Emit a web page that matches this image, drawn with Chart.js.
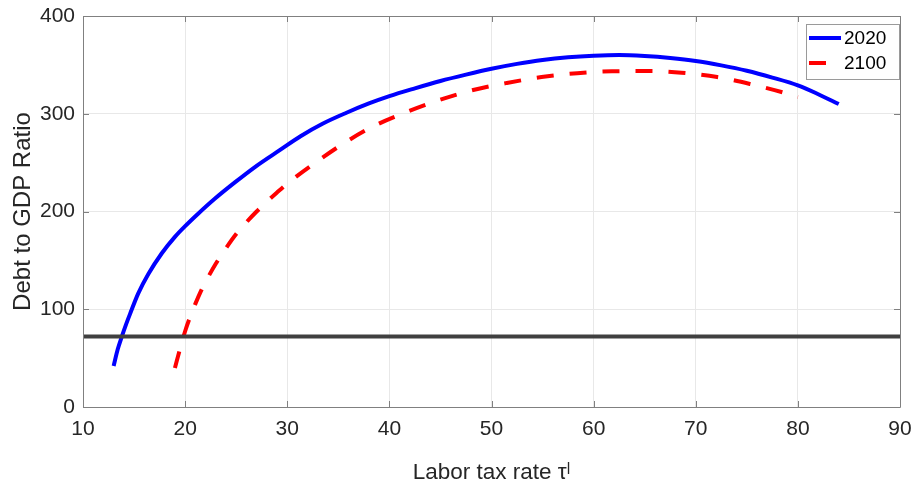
<!DOCTYPE html>
<html>
<head>
<meta charset="utf-8">
<script src="https://cdn.jsdelivr.net/npm/chart.js@4.4.1/dist/chart.umd.min.js"></script>
<style>
  html, body { margin: 0; padding: 0; background: #ffffff; }
  #wrap { width: 919px; height: 486px; }
</style>
</head>
<body>
<div id="wrap"><canvas id="c" width="919" height="486"></canvas></div>
<script>
// ---- data ----
const taxRate2020 = [13, 13.4, 13.8, 14.2, 14.6, 15.4, 16.4, 17.7, 19, 20, 21.3, 22.9, 24.9, 26.9, 29.3, 31.3, 33.5, 35.8, 38, 40, 42.5, 45, 47.5, 50, 52.5, 55, 57.5, 60, 62.5, 65, 67.5, 70, 72.5, 75, 77.5, 80, 82, 84];
const debt2020    = [42, 59, 72, 84, 95, 116, 136, 157, 174, 185, 198, 213, 230, 246, 263, 277, 290, 301, 310.5, 318, 326, 333.5, 340, 346, 351, 355, 357.7, 359.3, 360, 359, 357, 354, 349.5, 344, 337, 329, 320, 310];

const taxRate2100 = [19, 19.5, 20, 20.5, 21, 21.5, 22, 23, 24, 25, 26, 27, 28, 29, 30, 32.5, 35.5, 38.4, 41.5, 44.6, 47.9, 51.5, 54.9, 58.4, 61.8, 65.2, 68.6, 72.1, 75.3, 78.8, 80];
const debt2100    = [40, 59.5, 77.5, 92.5, 105.5, 117.5, 128, 146.5, 162.5, 177, 189, 200, 210, 219.5, 228.5, 248, 269.5, 287, 301, 313, 323.5, 331.5, 337.5, 341.5, 343.5, 343.7, 342, 337.5, 330.5, 321, 317];

const refTaxRate = [10, 90];
const refDebt    = [72, 72];

const seriesLabels = ['2020', '2100'];
const xTicks = [10, 20, 30, 40, 50, 60, 70, 80, 90];
const yTicks = [0, 100, 200, 300, 400];

const xTitle = 'Labor tax rate τˡ';
const yTitle = 'Debt to GDP Ratio';

function pts(xs, ys) { return xs.map((x, i) => ({ x: x, y: ys[i] })); }

const FONT = '"Liberation Sans", Arial, Helvetica, sans-serif';
const TEXT = '#262626';
const AXIS = '#808080';

const framePlugin = {
  id: 'frame',
  afterDatasetsDraw(chart) {
    const { ctx, chartArea: a, scales } = chart;
    ctx.save();
    ctx.strokeStyle = AXIS;
    ctx.lineWidth = 1;
    ctx.beginPath();
    ctx.rect(Math.round(a.left) + 0.5, Math.round(a.top) + 0.5,
             Math.round(a.right - a.left), Math.round(a.bottom - a.top));
    ctx.stroke();
    const tl = 6;
    ctx.beginPath();
    xTicks.forEach(v => {
      const px = Math.round(scales.x.getPixelForValue(v)) + 0.5;
      ctx.moveTo(px, a.bottom); ctx.lineTo(px, a.bottom - tl);
      ctx.moveTo(px, a.top); ctx.lineTo(px, a.top + tl);
    });
    yTicks.forEach(v => {
      const py = Math.round(scales.y.getPixelForValue(v)) + 0.5;
      ctx.moveTo(a.left, py); ctx.lineTo(a.left + tl, py);
      ctx.moveTo(a.right, py); ctx.lineTo(a.right - tl, py);
    });
    ctx.stroke();
    ctx.restore();
  },
  afterDraw(chart) {
    const { ctx, chartArea: a } = chart;
    const ds = chart.data.datasets;
    ctx.save();
    const bx = a.right - 94, by = a.top + 8, bw = 93, bh = 55;
    ctx.fillStyle = '#ffffff';
    ctx.fillRect(bx, by, bw, bh);
    ctx.strokeStyle = '#9a9a9a';
    ctx.lineWidth = 1;
    ctx.strokeRect(Math.round(bx) + 0.5, Math.round(by) + 0.5, bw, bh);
    ctx.font = '19px ' + FONT;
    ctx.textBaseline = 'middle';
    ctx.textAlign = 'left';
    [ds[0], ds[1]].forEach((d, i) => {
      const yy = by + 14 + i * 25;
      ctx.strokeStyle = d.borderColor;
      ctx.lineWidth = d.borderWidth;
      ctx.setLineDash(i === 1 ? [17, 40] : []);
      ctx.beginPath();
      ctx.moveTo(bx + 3, yy);
      ctx.lineTo(bx + 35, yy);
      ctx.stroke();
      ctx.setLineDash([]);
      ctx.fillStyle = '#000000';
      ctx.fillText(d.label, bx + 38, yy + 1);
    });
    ctx.restore();
  }
};

new Chart(document.getElementById('c'), {
  type: 'line',
  data: {
    datasets: [
      {
        label: seriesLabels[0],
        data: pts(taxRate2020, debt2020),
        borderColor: '#0000ff',
        borderWidth: 4,
        pointRadius: 0,
        cubicInterpolationMode: 'monotone',
        fill: false,
        order: 1
      },
      {
        label: seriesLabels[1],
        data: pts(taxRate2100, debt2100),
        borderColor: '#ff0000',
        borderWidth: 4,
        borderDash: [17, 16],
        borderCapStyle: 'butt',
        pointRadius: 0,
        cubicInterpolationMode: 'monotone',
        fill: false,
        order: 2
      },
      {
        label: 'reference',
        data: pts(refTaxRate, refDebt),
        borderColor: '#404040',
        borderWidth: 4,
        pointRadius: 0,
        fill: false,
        order: 0
      }
    ]
  },
  plugins: [framePlugin],
  options: {
    responsive: false,
    animation: false,
    devicePixelRatio: 1,
    layout: { padding: { left: 0, right: 19, top: 16, bottom: 0 } },
    plugins: {
      legend: { display: false },
      tooltip: { enabled: false }
    },
    scales: {
      x: {
        type: 'linear',
        min: 10, max: 90,
        afterBuildTicks(scale) { scale.ticks = xTicks.map(v => ({ value: v })); },
        afterFit(scale) {
          scale.height = 79;
          scale.paddingLeft = 0; scale.paddingRight = 0;
        },
        ticks: {
          color: TEXT,
          font: { family: FONT, size: 21 },
          padding: 10,
          maxRotation: 0
        },
        grid: { color: '#e8e8e8', lineWidth: 1, drawTicks: false },
        border: { display: false },
        title: {
          display: true,
          text: xTitle,
          color: TEXT,
          font: { family: FONT, size: 22.5 },
          padding: { top: 4, bottom: 0 }
        }
      },
      y: {
        type: 'linear',
        min: 0, max: 400,
        afterBuildTicks(scale) { scale.ticks = yTicks.map(v => ({ value: v })); },
        afterFit(scale) {
          scale.width = 83;
          scale.paddingTop = 0; scale.paddingBottom = 0;
        },
        ticks: {
          color: TEXT,
          font: { family: FONT, size: 21 },
          padding: 8
        },
        grid: { color: '#e8e8e8', lineWidth: 1, drawTicks: false },
        border: { display: false },
        title: {
          display: true,
          text: yTitle,
          color: TEXT,
          font: { family: FONT, size: 24 },
          padding: { top: 9, bottom: 0 }
        }
      }
    }
  }
});
</script>
</body>
</html>
